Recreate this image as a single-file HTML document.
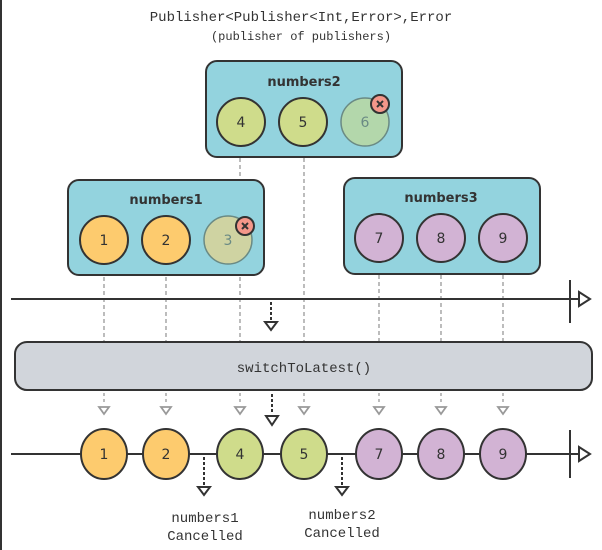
<!DOCTYPE html>
<html><head><meta charset="utf-8"><style>
html,body{margin:0;padding:0;background:#fff}
svg{display:block}
.m{font-family:"Liberation Mono","DejaVu Sans Mono",monospace;fill:#333}
.s{font-family:"DejaVu Sans","Liberation Sans",sans-serif;fill:#333}
</style></head><body>
<svg width="602" height="550" viewBox="0 0 602 550" xmlns="http://www.w3.org/2000/svg">
<rect x="0" y="0" width="2" height="550" fill="#333"/>
<text class="m" x="301" y="21" text-anchor="middle" font-size="14">Publisher&lt;Publisher&lt;Int,Error&gt;,Error</text>
<text class="m" x="301" y="40" text-anchor="middle" font-size="12">(publisher of publishers)</text>

<g stroke="#999" stroke-width="1.3" stroke-dasharray="4,3">
<line x1="104" y1="277" x2="104" y2="341"/>
<line x1="166" y1="277" x2="166" y2="341"/>
<line x1="240" y1="158" x2="240" y2="179"/>
<line x1="240" y1="277" x2="240" y2="341"/>
<line x1="304" y1="158" x2="304" y2="341"/>
<line x1="379" y1="275" x2="379" y2="341"/>
<line x1="441" y1="275" x2="441" y2="341"/>
<line x1="503" y1="275" x2="503" y2="341"/>
</g>

<rect x="206" y="61" width="196" height="96" rx="11" fill="#93d3de" stroke="#333" stroke-width="2"/>
<text class="s" x="304" y="86" text-anchor="middle" font-size="13" font-weight="bold">numbers2</text>
<g stroke="#333" stroke-width="2">
<circle cx="241" cy="122" r="24" fill="#cfdc8b"/>
<circle cx="303" cy="122" r="24" fill="#cfdc8b"/>
<circle cx="365" cy="122" r="24" fill="#b3d7ab" stroke="#6a8a84" stroke-width="1.5"/>
</g>
<text class="s" x="241" y="127" text-anchor="middle" font-size="14">4</text>
<text class="s" x="303" y="127" text-anchor="middle" font-size="14">5</text>
<text class="s" x="365" y="127" text-anchor="middle" font-size="14" style="fill:#6a8a84">6</text>
<circle cx="380" cy="104" r="9" fill="#f4978a" stroke="#333" stroke-width="2"/>
<path d="M377 101 L383 107 M383 101 L377 107" stroke="#333" stroke-width="2"/>

<rect x="68" y="180" width="196" height="95" rx="11" fill="#93d3de" stroke="#333" stroke-width="2"/>
<text class="s" x="166" y="204" text-anchor="middle" font-size="13" font-weight="bold">numbers1</text>
<g stroke="#333" stroke-width="2">
<circle cx="104" cy="240" r="24" fill="#fdcb6e"/>
<circle cx="166" cy="240" r="24" fill="#fdcb6e"/>
<circle cx="228" cy="240" r="24" fill="#cfd3a2" stroke="#6a8a84" stroke-width="1.5"/>
</g>
<text class="s" x="104" y="245" text-anchor="middle" font-size="14">1</text>
<text class="s" x="166" y="245" text-anchor="middle" font-size="14">2</text>
<text class="s" x="228" y="245" text-anchor="middle" font-size="14" style="fill:#6a8a84">3</text>
<circle cx="245" cy="226" r="9" fill="#f4978a" stroke="#333" stroke-width="2"/>
<path d="M242 223 L248 229 M248 223 L242 229" stroke="#333" stroke-width="2"/>

<rect x="344" y="178" width="196" height="96" rx="11" fill="#93d3de" stroke="#333" stroke-width="2"/>
<text class="s" x="441" y="202" text-anchor="middle" font-size="13" font-weight="bold">numbers3</text>
<g stroke="#333" stroke-width="2" fill="#d2b3d4">
<circle cx="379" cy="238" r="24"/>
<circle cx="441" cy="238" r="24"/>
<circle cx="503" cy="238" r="24"/>
</g>
<text class="s" x="379" y="243" text-anchor="middle" font-size="14">7</text>
<text class="s" x="441" y="243" text-anchor="middle" font-size="14">8</text>
<text class="s" x="503" y="243" text-anchor="middle" font-size="14">9</text>

<line x1="11" y1="299" x2="580" y2="299" stroke="#333" stroke-width="2"/>
<line x1="570" y1="280" x2="570" y2="323" stroke="#333" stroke-width="2"/>
<path d="M579 292 L590 299 L579 306 Z" fill="#fff" stroke="#333" stroke-width="2"/>
<line x1="271" y1="302" x2="271" y2="320" stroke="#333" stroke-width="2" stroke-dasharray="3,2"/>
<path d="M265 322 L277 322 L271 330 Z" fill="#fff" stroke="#333" stroke-width="2"/>

<rect x="15" y="342" width="577" height="48" rx="12" fill="#d1d5db" stroke="#333" stroke-width="2"/>
<text class="m" x="304" y="372" text-anchor="middle" font-size="14">switchToLatest()</text>

<g stroke="#999" stroke-width="1.3">
<g stroke-dasharray="3,3">
<line x1="104" y1="393" x2="104" y2="405"/><line x1="166" y1="393" x2="166" y2="405"/>
<line x1="240" y1="393" x2="240" y2="405"/><line x1="304" y1="393" x2="304" y2="405"/>
<line x1="379" y1="393" x2="379" y2="405"/><line x1="441" y1="393" x2="441" y2="405"/>
<line x1="503" y1="393" x2="503" y2="405"/>
</g>
<g fill="#fff" stroke-width="1.8">
<path d="M99 407 L109 407 L104 414 Z"/><path d="M161 407 L171 407 L166 414 Z"/>
<path d="M235 407 L245 407 L240 414 Z"/><path d="M299 407 L309 407 L304 414 Z"/>
<path d="M374 407 L384 407 L379 414 Z"/><path d="M436 407 L446 407 L441 414 Z"/>
<path d="M498 407 L508 407 L503 414 Z"/>
</g>
</g>
<line x1="272" y1="394" x2="272" y2="414" stroke="#333" stroke-width="2" stroke-dasharray="3,2"/>
<path d="M266 416 L278 416 L272 425 Z" fill="#fff" stroke="#333" stroke-width="2"/>

<line x1="11" y1="454" x2="580" y2="454" stroke="#333" stroke-width="2"/>
<line x1="570" y1="430" x2="570" y2="478" stroke="#333" stroke-width="2"/>
<path d="M579 447 L590 454 L579 461 Z" fill="#fff" stroke="#333" stroke-width="2"/>
<g stroke="#333" stroke-width="2">
<ellipse cx="104" cy="454" rx="23" ry="25" fill="#fdcb6e"/>
<ellipse cx="166" cy="454" rx="23" ry="25" fill="#fdcb6e"/>
<ellipse cx="240" cy="454" rx="23" ry="25" fill="#cfdc8b"/>
<ellipse cx="304" cy="454" rx="23" ry="25" fill="#cfdc8b"/>
<ellipse cx="379" cy="454" rx="23" ry="25" fill="#d2b3d4"/>
<ellipse cx="441" cy="454" rx="23" ry="25" fill="#d2b3d4"/>
<ellipse cx="503" cy="454" rx="23" ry="25" fill="#d2b3d4"/>
</g>
<g class="s" font-size="14" text-anchor="middle">
<text x="104" y="459">1</text><text x="166" y="459">2</text><text x="240" y="459">4</text>
<text x="304" y="459">5</text><text x="379" y="459">7</text><text x="441" y="459">8</text><text x="503" y="459">9</text>
</g>

<line x1="204" y1="457" x2="204" y2="485" stroke="#333" stroke-width="2" stroke-dasharray="3,2"/>
<path d="M198 487 L210 487 L204 495 Z" fill="#fff" stroke="#333" stroke-width="2"/>
<line x1="342" y1="457" x2="342" y2="485" stroke="#333" stroke-width="2" stroke-dasharray="3,2"/>
<path d="M336 487 L348 487 L342 495 Z" fill="#fff" stroke="#333" stroke-width="2"/>
<g class="m" font-size="14" text-anchor="middle">
<text x="205" y="522">numbers1</text><text x="205" y="540">Cancelled</text>
<text x="342" y="519">numbers2</text><text x="342" y="537">Cancelled</text>
</g>
</svg>
</body></html>
